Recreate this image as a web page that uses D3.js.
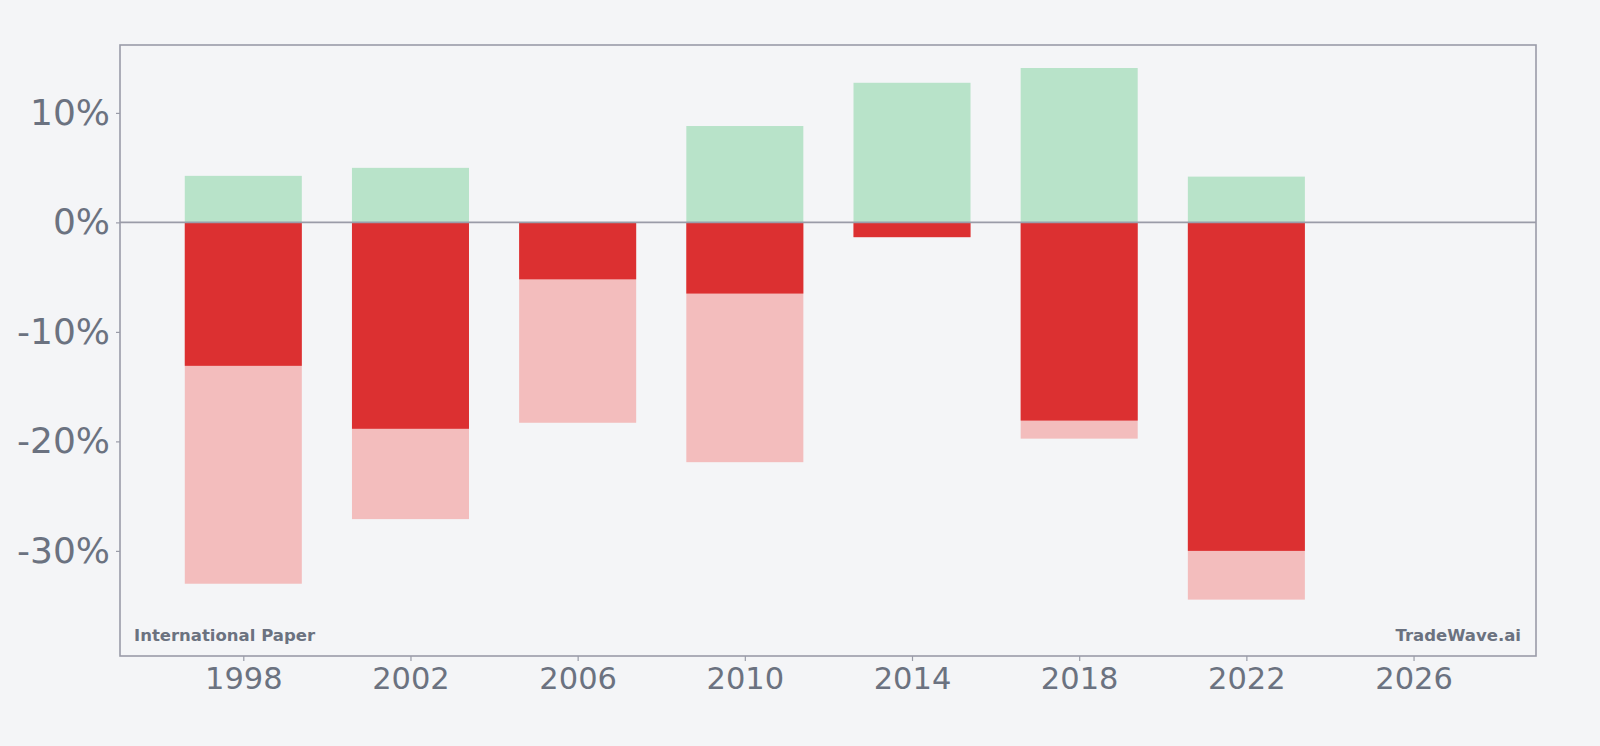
<!DOCTYPE html>
<html>
<head>
<meta charset="utf-8">
<script src="https://cdn.jsdelivr.net/npm/d3@7/dist/d3.min.js"></script>
<style>
  html, body { margin: 0; padding: 0; background: #f4f5f7; }
  svg { display: block; font-family: "DejaVu Sans", sans-serif; }
</style>
</head>
<body>
<div id="chart"></div>
<script>
// data
const years = [1998, 2002, 2006, 2010, 2014, 2018, 2022];
const maxGain = [4.25, 4.98, 0, 8.8, 12.75, 14.1, 4.18];
const yearReturn = [-13.1, -18.85, -5.2, -6.5, -1.35, -18.1, -30.0];
const maxDrawdown = [-33.0, -27.1, -18.3, -21.9, -1.35, -19.75, -34.45];
const yTicks = [-30, -20, -10, 0, 10];
const xTicks = [1998, 2002, 2006, 2010, 2014, 2018, 2022, 2026];

const width = 1600, height = 746;
const margin = { top: 45, right: 64, bottom: 90, left: 120 };
const barWidth = 2.8; // in years

const svg = d3.select('#chart')
  .append('svg')
  .attr('width', width)
  .attr('height', height);

svg.append('rect')
  .attr('width', width)
  .attr('height', height)
  .attr('fill', '#f4f5f7');

const x = d3.scaleLinear()
  .domain([1995.05, 2028.93])
  .range([margin.left, width - margin.right]);

const y = d3.scaleLinear()
  .domain([-39.6, 16.2])
  .range([height - margin.bottom, margin.top]);

const rows = years.map((yr, i) => ({
  year: yr, gain: maxGain[i], ret: yearReturn[i], dd: maxDrawdown[i]
}));

// bars: gain above zero, drawdown behind return below zero
function bars(cls, key, color) {
  svg.append('g')
    .attr('class', cls)
    .selectAll('rect')
    .data(rows)
    .enter()
    .append('rect')
    .attr('x', d => x(d.year - barWidth / 2))
    .attr('width', d => x(d.year + barWidth / 2) - x(d.year - barWidth / 2))
    .attr('y', d => y(Math.max(0, d[key])))
    .attr('height', d => Math.abs(y(d[key]) - y(0)))
    .attr('fill', color);
}
bars('gain', 'gain', '#b8e3c9');
bars('drawdown', 'dd', '#f3bdbd');
bars('ret', 'ret', '#dc3031');

// zero line
svg.append('line')
  .attr('x1', x.range()[0])
  .attr('x2', x.range()[1])
  .attr('y1', y(0))
  .attr('y2', y(0))
  .attr('stroke', '#9a9ca8')
  .attr('stroke-width', 1.6);

// axes
const xAxis = svg.append('g')
  .attr('class', 'axis axis-x')
  .attr('transform', `translate(0, ${height - margin.bottom})`)
  .call(d3.axisBottom(x).tickValues(xTicks).tickFormat(d3.format('d')).tickSize(5).tickPadding(6));

const yAxis = svg.append('g')
  .attr('class', 'axis axis-y')
  .attr('transform', `translate(${margin.left}, 0)`)
  .call(d3.axisLeft(y).tickValues(yTicks).tickFormat(d => d + '%').tickSize(4).tickPadding(6));

svg.selectAll('.axis .domain').remove();
svg.selectAll('.axis .tick line').attr('stroke', '#9a9ca8').attr('stroke-width', 1.2);
xAxis.selectAll('text').attr('font-size', 30.5).attr('fill', '#6b7280')
  .attr('font-family', '"DejaVu Sans", sans-serif');
yAxis.selectAll('text').attr('font-size', 36).attr('fill', '#6b7280')
  .attr('font-family', '"DejaVu Sans", sans-serif');

// frame
svg.append('rect')
  .attr('x', margin.left)
  .attr('y', margin.top)
  .attr('width', width - margin.left - margin.right)
  .attr('height', height - margin.top - margin.bottom)
  .attr('fill', 'none')
  .attr('stroke', '#9a9ca8')
  .attr('stroke-width', 1.6);

// labels inside the frame
svg.append('text')
  .attr('x', margin.left + 14)
  .attr('y', height - margin.bottom - 15)
  .attr('font-size', 16.5)
  .attr('font-weight', 'bold')
  .attr('fill', '#6b7280')
  .text('International Paper');

svg.append('text')
  .attr('x', width - margin.right - 15)
  .attr('y', height - margin.bottom - 15)
  .attr('text-anchor', 'end')
  .attr('font-size', 16.5)
  .attr('font-weight', 'bold')
  .attr('fill', '#6b7280')
  .text('TradeWave.ai');
</script>
</body>
</html>
